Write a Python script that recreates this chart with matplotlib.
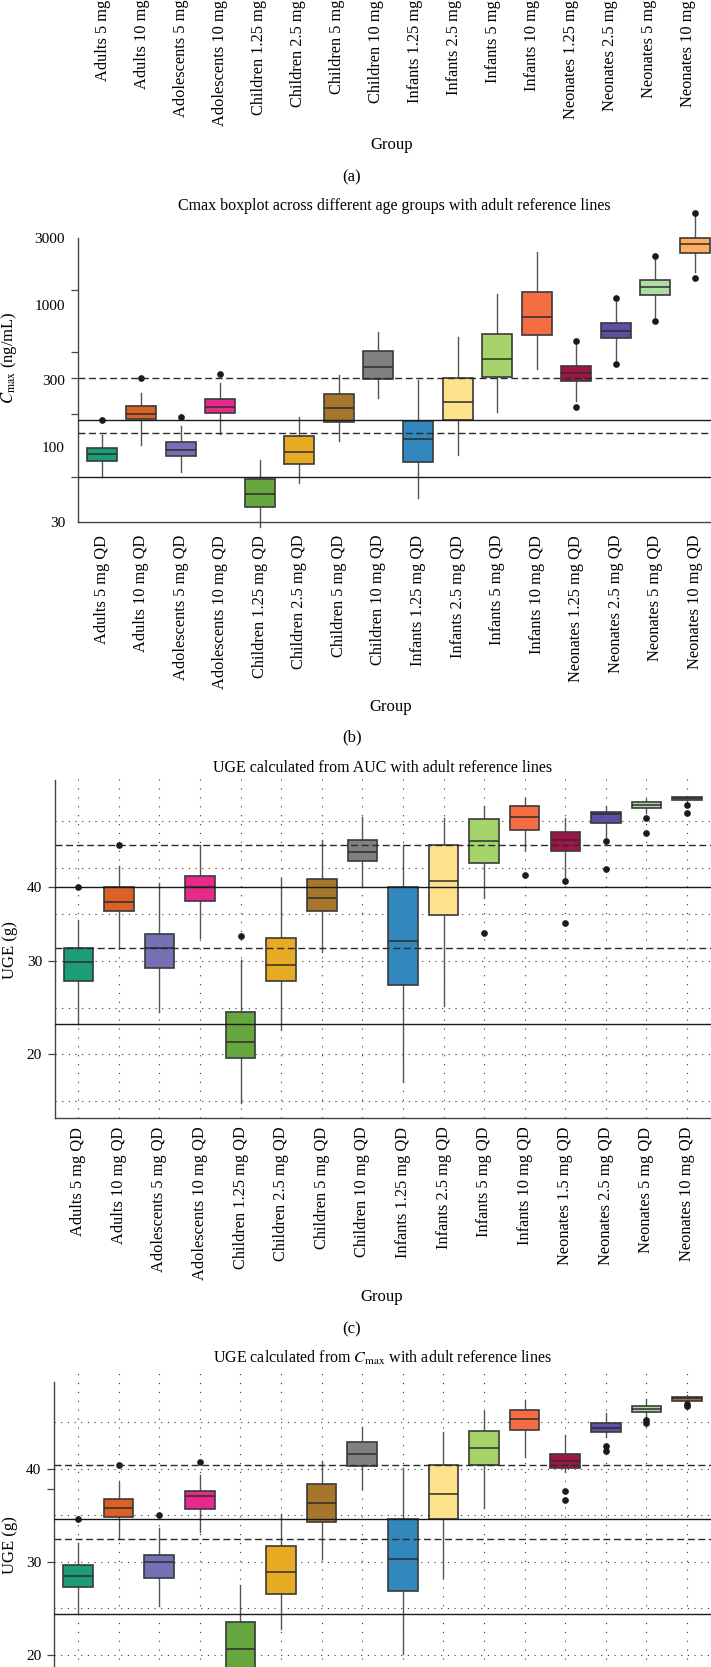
import matplotlib
matplotlib.use('Agg')
import matplotlib.pyplot as plt
from matplotlib.ticker import FixedLocator, NullFormatter

plt.rcParams['font.family'] = ['Liberation Serif', 'DejaVu Serif']
plt.rcParams['mathtext.fontset'] = 'stix'

# ---------------- data ----------------
labels_a = ["Adults 5 mg QD", "Adults 10 mg QD", "Adolescents 5 mg QD", "Adolescents 10 mg QD",
            "Children 1.25 mg QD", "Children 2.5 mg QD", "Children 5 mg QD", "Children 10 mg QD",
            "Infants 1.25 mg QD", "Infants 2.5 mg QD", "Infants 5 mg QD", "Infants 10 mg QD",
            "Neonates 1.25 mg QD", "Neonates 2.5 mg QD", "Neonates 5 mg QD", "Neonates 10 mg QD"]
labels_b = list(labels_a)
labels_c = ["Adults 5 mg QD", "Adults 10 mg QD", "Adolescents 5 mg QD", "Adolescents 10 mg QD",
            "Children 1.25 mg QD", "Children 2.5 mg QD", "Children 5 mg QD", "Children 10 mg QD",
            "Infants 1.25 mg QD", "Infants 2.5 mg QD", "Infants 5 mg QD", "Infants 10 mg QD",
            "Neonates 1.5 mg QD", "Neonates 2.5 mg QD", "Neonates 5 mg QD", "Neonates 10 mg QD"]

colors_b = ['#1b9e77', '#dc6126', '#7570b3', '#e7298a', '#66a63e', '#e6ab22', '#a6762d', '#808080',
            '#3288bd', '#fde28b', '#a6d46a', '#f46d43', '#a01447', '#5e4fa2', '#addda4', '#fdae61']
colors_cd = colors_b[:15] + ['#9c7240']

# Panel (b): Cmax (ng/mL)
b_whislo = [62, 104, 67.5, 124.5, 27.7, 55.9, 111, 222, 43.9, 88.5, 176.8, 357, 213, 413, 825, 1711]
b_q1 = [80.3, 158, 87, 174, 37.9, 76, 151.8, 305, 78.5, 156, 312, 622, 295, 587, 1185, 2329]
b_med = [89.5, 173, 95.5, 193.6, 46.8, 93.4, 189.7, 370, 114.6, 208, 418, 833, 336, 664, 1349, 2696]
b_q3 = [98.5, 197, 108.7, 218, 59.7, 119.8, 236.8, 480, 154.5, 310, 626, 1250, 374.5, 756, 1511, 3000]
b_whishi = [122.5, 243, 141.6, 283, 81.5, 163, 323.6, 653.6, 298.5, 597, 1198, 2390, 527, 1063, 2113, 4288]
b_fliers = [[156], [310], [163], [327], [], [], [], [], [], [], [], [],
            [562, 193.7], [1122, 387], [2229, 777], [4455, 1553]]
b_ref_solid = [156, 62]
b_ref_dashed = [310, 127]
b_yticks = [30, 100, 300, 1000, 3000]
b_ytick_marks = [30, 62, 172, 310, 472, 1285, 3000]

# Panel (c): UGE from AUC (g)
c_whislo = [23.2, 31.36, 24.57, 32.5, 14.75, 22.6, 31.0, 37.9, 17.07, 25.18, 36.72, 41.89, 38.86, 43.32, 45.82, 47.07]
c_q1 = [27.89, 35.36, 29.2, 36.43, 19.57, 27.86, 35.36, 40.75, 27.43, 34.93, 40.53, 44.04, 41.79, 44.75, 46.36, 47.25]
c_med = [29.86, 36.35, 31.36, 37.96, 21.35, 29.57, 36.72, 41.64, 32.18, 38.57, 42.86, 45.4, 42.96, 45.71, 46.71, 47.43]
c_q3 = [31.43, 37.96, 32.86, 39.1, 24.57, 32.5, 38.79, 42.96, 37.9, 42.43, 45.21, 46.6, 43.79, 45.93, 47.0, 47.61]
c_whishi = [34.39, 40.21, 38.32, 42.43, 30.1, 38.93, 42.96, 45.46, 42.43, 45.29, 46.6, 47.43, 45.29, 46.64, 47.36, 47.71]
c_fliers = [[37.9], [42.43], [], [], [32.7], [], [], [], [], [], [33.03], [39.21],
            [38.57, 34.1], [42.86, 39.89], [45.36, 43.68], [46.71, 45.82]]
c_ref_solid = [37.9, 23.2]
c_ref_dashed = [42.43, 31.36]
c_yticks = [20, 30, 37.96]
c_yticklabels = ["20", "30", "40"]
c_grid = [15, 20, 25, 30, 35, 40, 45]

# Panel (d): UGE from Cmax (g)
d_whislo = [24.36, 32.4, 25.25, 33.22, 13.0, 22.78, 30.26, 37.8, 20.1, 28.28, 35.73, 41.27, 39.66, 43.41, 45.56, 47.1]
d_q1 = [27.25, 34.83, 28.22, 35.65, 18.0, 26.57, 34.29, 40.3, 26.86, 34.55, 40.38, 44.13, 40.09, 43.95, 46.03, 47.27]
d_med = [28.43, 35.8, 29.93, 37.05, 20.63, 28.93, 36.3, 41.56, 30.26, 37.26, 42.23, 45.28, 40.84, 44.38, 46.38, 47.53]
d_q3 = [29.65, 36.73, 30.72, 37.62, 23.56, 31.72, 38.37, 42.81, 34.55, 40.38, 44.06, 46.28, 41.56, 44.85, 46.7, 47.67]
d_whishi = [31.97, 38.58, 33.58, 39.3, 27.5, 35.08, 40.8, 44.42, 40.02, 43.95, 46.17, 47.35, 43.59, 45.92, 47.42, 47.89]
d_fliers = [[34.55], [40.38], [35.01], [40.73], [], [], [], [], [], [], [], [],
            [37.59, 36.62], [42.41, 41.88], [45.2, 44.91], [46.89, 46.7]]
d_ref_solid = [34.55, 24.36]
d_ref_dashed = [40.38, 32.4]
d_yticks = [20, 30, 40]
d_minor = [37.8]
d_grid = [15, 20, 25, 30, 35, 40, 45]

# ---------------- layout ----------------
W, H = 711, 1667
fig = plt.figure(figsize=(W / 100, H / 100), dpi=100)


def axes_px(left, top, right, bottom):
    return fig.add_axes([left / W, 1 - bottom / H, (right - left) / W, (bottom - top) / H])


def ftext(x, y, s, **kw):
    kw.setdefault('ha', 'center')
    kw.setdefault('va', 'center')
    fig.text(x / W, 1 - y / H, s, **kw)


TICKFS = 11.8
EDGE = '#3a3a3a'


def draw_boxes(ax, whislo, q1, med, q3, whishi, fliers, colors, width):
    stats = []
    for i in range(len(med)):
        stats.append(dict(whislo=whislo[i], q1=q1[i], med=med[i], q3=q3[i],
                          whishi=whishi[i], fliers=fliers[i]))
    bp = ax.bxp(stats, positions=list(range(len(med))), widths=width, patch_artist=True,
                showcaps=False, manage_ticks=False,
                boxprops=dict(edgecolor=EDGE, linewidth=1.2),
                medianprops=dict(color='#2d2d2d', linewidth=1.1),
                whiskerprops=dict(color='#555555', linewidth=1.0),
                flierprops=dict(marker='o', markerfacecolor='#1a1a1a', markeredgecolor='#1a1a1a',
                                markersize=3.8, linestyle='none'))
    for patch, c in zip(bp['boxes'], colors):
        patch.set_facecolor(c)
        patch.set_zorder(2)
    for k in ('whiskers', 'medians', 'fliers'):
        for art in bp[k]:
            art.set_clip_on(False)
            art.set_zorder(2.5 if k == 'medians' else 1.5)
    for art in bp['fliers']:
        art.set_zorder(3)
    return bp


def ref_lines(ax, solid, dashed):
    for v in solid:
        ax.axhline(v, color='#1a1a1a', lw=1.0, zorder=4)
    for v in dashed:
        ax.axhline(v, color='#2a2a2a', lw=1.0, ls=(0, (5, 2.6)), zorder=4)


def style_x(ax, labels, pad):
    ax.set_xticks(range(len(labels)))
    ax.set_xticklabels(labels, rotation=90, fontsize=TICKFS, va='top', ha='center')
    ax.tick_params(axis='x', length=0, pad=pad)


# ---- panel (a): only the bottom of its tick labels is visible ----
ax_a = axes_px(80, -141, 712, -41)
ax_a.set_xlim(-0.6, 15.605)
style_x(ax_a, labels_a, 9.5)
ax_a.set_yticks([])
for s in ax_a.spines.values():
    s.set_visible(False)
ax_a.patch.set_alpha(0)
ftext(392, 145, 'Group', fontsize=12)
ftext(352, 177, '(a)', fontsize=12)

# ---- panel (b) ----
ax_b = axes_px(78, 210, 712, 521.7)
ax_b.set_yscale('log')
draw_boxes(ax_b, b_whislo, b_q1, b_med, b_q3, b_whishi, b_fliers, colors_b, 0.76)
ref_lines(ax_b, b_ref_solid, b_ref_dashed)
ax_b.set_ylim(30, 4693)
ax_b.set_xlim(-0.599, 15.435)
ax_b.yaxis.set_major_locator(FixedLocator(b_yticks))
ax_b.set_yticklabels([str(v) for v in b_yticks], fontsize=11)
ax_b.yaxis.set_minor_locator(FixedLocator(b_ytick_marks))
ax_b.yaxis.set_minor_formatter(NullFormatter())
ax_b.tick_params(axis='y', which='major', length=0, pad=9.4)
ax_b.tick_params(axis='y', which='minor', length=5, width=0.9, color='#444444')
style_x(ax_b, labels_b, 9.5)
ax_b.spines['top'].set_visible(False)
ax_b.spines['right'].set_visible(False)
ax_b.spines['left'].set_bounds(30, 3000)
for s in ('left', 'bottom'):
    ax_b.spines[s].set_color('#444444')
    ax_b.spines[s].set_linewidth(1.0)
ftext(394.5, 206, 'Cmax boxplot across different age groups with adult reference lines', fontsize=11.5)
ftext(9.5, 358, r'$C_{\mathrm{max}}$ (ng/mL)', rotation=90, fontsize=12)
ftext(391, 706.7, 'Group', fontsize=12)
ftext(352, 737.3, '(b)', fontsize=12)


def grid_dotted(ax, ys, n):
    for v in ys:
        ax.axhline(v, color='#333333', lw=0.8, ls=(0, (1, 5)), zorder=0.5)
    for i in range(n):
        ax.axvline(i, color='#333333', lw=0.8, ls=(0, (1, 7)), zorder=0.5)


# ---- panel (c) ----
ax_c = axes_px(55, 775, 712, 1117.7)
grid_dotted(ax_c, c_grid, 16)
draw_boxes(ax_c, c_whislo, c_q1, c_med, c_q3, c_whishi, c_fliers, colors_cd, 0.727)
ref_lines(ax_c, c_ref_solid, c_ref_dashed)
ax_c.set_ylim(13.21, 49.93)
ax_c.set_xlim(-0.574, 15.616)
ax_c.set_yticks(c_yticks)
ax_c.set_yticklabels(c_yticklabels, fontsize=11)
ax_c.tick_params(axis='y', length=5, width=0.9, pad=4.3, color='#444444')
style_x(ax_c, labels_c, 6.5)
ax_c.spines['top'].set_visible(False)
ax_c.spines['right'].set_visible(False)
ax_c.spines['left'].set_bounds(13.21, 49.39)
for s in ('left', 'bottom'):
    ax_c.spines[s].set_color('#444444')
    ax_c.spines[s].set_linewidth(1.0)
ftext(383, 767.7, 'UGE calculated from AUC with adult reference lines', fontsize=11.5)
ftext(9.5, 950, 'UGE (g)', rotation=90, fontsize=12)
ftext(382, 1296.7, 'Group', fontsize=12)
ftext(352, 1329.3, '(c)', fontsize=12)

# ---- panel (d) ----
ax_d = axes_px(54.3, 1371.7, 712, 1714.4)
grid_dotted(ax_d, d_grid, 16)
draw_boxes(ax_d, d_whislo, d_q1, d_med, d_q3, d_whishi, d_fliers, colors_cd, 0.727)
ref_lines(ax_d, d_ref_solid, d_ref_dashed)
ax_d.set_ylim(13.62, 50.39)
ax_d.set_xlim(-0.584, 15.616)
ax_d.set_yticks(d_yticks)
ax_d.set_yticklabels([str(v) for v in d_yticks], fontsize=11)
ax_d.yaxis.set_minor_locator(FixedLocator(d_minor))
ax_d.yaxis.set_minor_formatter(NullFormatter())
ax_d.tick_params(axis='y', which='both', length=5, width=0.9, pad=4.3, color='#444444')
style_x(ax_d, labels_c, 6.5)
ax_d.spines['top'].set_visible(False)
ax_d.spines['right'].set_visible(False)
ax_d.spines['left'].set_bounds(13.62, 49.31)
for s in ('left', 'bottom'):
    ax_d.spines[s].set_color('#444444')
    ax_d.spines[s].set_linewidth(1.0)
ftext(383, 1358.3, r'UGE calculated from $C_{\mathrm{max}}$ with adult reference lines', fontsize=11.5)
ftext(9.5, 1545, 'UGE (g)', rotation=90, fontsize=12)

fig.savefig('out.png', dpi=100)
